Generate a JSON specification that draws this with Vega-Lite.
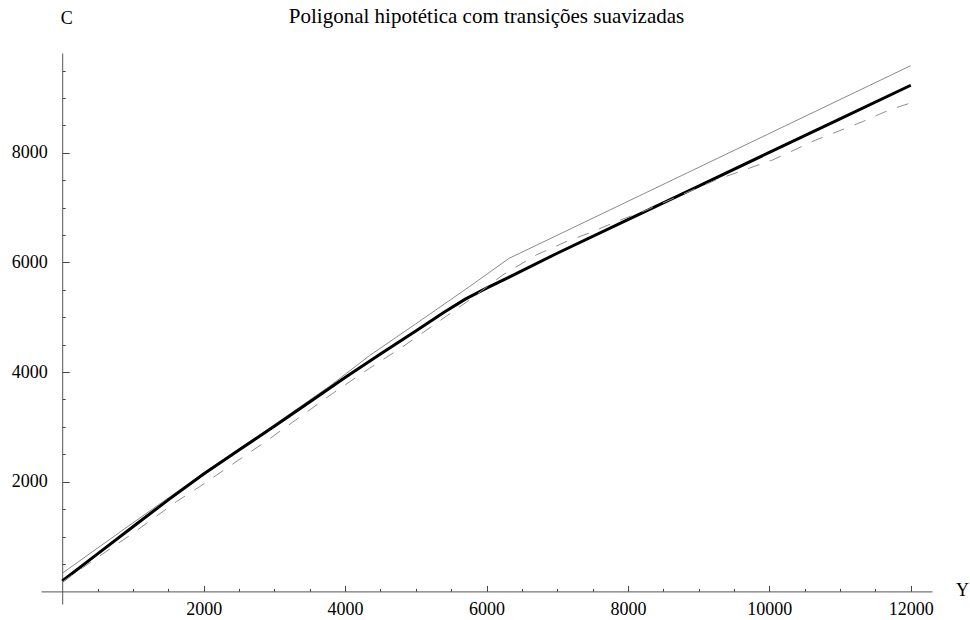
{
  "$schema": "https://vega.github.io/schema/vega-lite/v6.json",
  "width": 891,
  "height": 551,
  "autosize": {"type": "none"},
  "padding": {"left": 41, "top": 53, "right": 38, "bottom": 16},
  "background": "white",
  "config": {"view": {"stroke": null}, "font": "Liberation Serif"},
  "title": {
    "text": "Poligonal hipotética com transições suavizadas",
    "font": "Liberation Serif",
    "fontSize": 21,
    "fontWeight": "normal",
    "color": "black",
    "anchor": "middle",
    "frame": "group",
    "baseline": "alphabetic",
    "offset": 0,
    "dy": 35
  },
  "datasets": {
    "poligonal": [
      {"Y": 0, "C": 330}, {"Y": 1000, "C": 1250}, {"Y": 2000, "C": 2160},
      {"Y": 3000, "C": 3040}, {"Y": 3800, "C": 3760}, {"Y": 4345, "C": 4300},
      {"Y": 5000, "C": 4880}, {"Y": 5760, "C": 5560}, {"Y": 6320, "C": 6075},
      {"Y": 12000, "C": 9590}
    ],
    "suavizada": [
      {"Y": 0, "C": 190}, {"Y": 500, "C": 685}, {"Y": 1000, "C": 1180},
      {"Y": 1500, "C": 1670}, {"Y": 2000, "C": 2140}, {"Y": 2500, "C": 2580},
      {"Y": 3000, "C": 3010}, {"Y": 3500, "C": 3455}, {"Y": 4000, "C": 3900},
      {"Y": 4500, "C": 4330}, {"Y": 5000, "C": 4750}, {"Y": 5400, "C": 5090},
      {"Y": 5700, "C": 5330}, {"Y": 6000, "C": 5530}, {"Y": 6300, "C": 5720},
      {"Y": 7000, "C": 6167}, {"Y": 8000, "C": 6780}, {"Y": 9000, "C": 7393},
      {"Y": 10000, "C": 8006}, {"Y": 11000, "C": 8619}, {"Y": 12000, "C": 9232}
    ],
    "tracejada": [
      {"Y": 0, "C": 170}, {"Y": 500, "C": 620}, {"Y": 1000, "C": 1060},
      {"Y": 1613, "C": 1636}, {"Y": 1943, "C": 1910}, {"Y": 2885, "C": 2740},
      {"Y": 3827, "C": 3613}, {"Y": 4345, "C": 4069}, {"Y": 4816, "C": 4463},
      {"Y": 5288, "C": 4890}, {"Y": 5758, "C": 5314}, {"Y": 6229, "C": 5771},
      {"Y": 6701, "C": 6135}, {"Y": 7125, "C": 6378}, {"Y": 7500, "C": 6560},
      {"Y": 7854, "C": 6755}, {"Y": 8207, "C": 6925}, {"Y": 9244, "C": 7503},
      {"Y": 9573, "C": 7655}, {"Y": 10044, "C": 7868}, {"Y": 10657, "C": 8233},
      {"Y": 11316, "C": 8566}, {"Y": 11693, "C": 8780}, {"Y": 12000, "C": 8910}
    ]
  },
  "encoding": {
    "x": {
      "field": "Y",
      "type": "quantitative",
      "scale": {"domain": [-300, 12300], "nice": false, "zero": false},
      "axis": {
        "orient": "bottom",
        "offset": -12.6,
        "values": [500, 1000, 1500, 2000, 2500, 3000, 3500, 4000, 4500, 5000, 5500, 6000, 6500, 7000, 7500, 8000, 8500, 9000, 9500, 10000, 10500, 11000, 11500, 12000],
        "labelExpr": "datum.value % 2000 === 0 ? format(datum.value, 'd') : ''",
        "labelFont": "Liberation Serif",
        "labelFontSize": 18,
        "labelColor": "black",
        "labelPadding": 15,
        "labelBaseline": "top",
        "labelFlush": false,
        "labelOverlap": false,
        "tickSize": {"condition": {"test": "datum.value % 2000 === 0", "value": -6}, "value": -3},
        "tickColor": "#444",
        "tickWidth": 1,
        "domainColor": "#555",
        "domainWidth": 1,
        "grid": false,
        "title": "Y",
        "titleFont": "Liberation Serif",
        "titleFontSize": 18,
        "titleFontWeight": "normal",
        "titleColor": "black",
        "titleAngle": 0,
        "titleAlign": "center",
        "titleBaseline": "middle",
        "titleX": 921,
        "titleY": -1
      }
    },
    "y": {
      "field": "C",
      "type": "quantitative",
      "scale": {"domain": [-230, 9820], "nice": false, "zero": false},
      "axis": {
        "orient": "left",
        "offset": -21.2,
        "values": [500, 1000, 1500, 2000, 2500, 3000, 3500, 4000, 4500, 5000, 5500, 6000, 6500, 7000, 7500, 8000, 8500, 9000, 9500],
        "labelExpr": "datum.value % 2000 === 0 ? format(datum.value, 'd') : ''",
        "labelFont": "Liberation Serif",
        "labelFontSize": 18,
        "labelColor": "black",
        "labelPadding": 22,
        "labelBaseline": "middle",
        "labelFlush": false,
        "labelOverlap": false,
        "tickSize": {"condition": {"test": "datum.value % 2000 === 0", "value": -7}, "value": -3},
        "tickColor": "#444",
        "tickWidth": 1,
        "domainColor": "#555",
        "domainWidth": 1,
        "grid": false,
        "title": "C",
        "titleFont": "Liberation Serif",
        "titleFontSize": 18,
        "titleFontWeight": "normal",
        "titleColor": "black",
        "titleAngle": 0,
        "titleAlign": "center",
        "titleBaseline": "middle",
        "titleX": 4,
        "titleY": -35
      }
    }
  },
  "layer": [
    {
      "data": {"name": "poligonal"},
      "mark": {"type": "line", "color": "#8a8a8a", "strokeWidth": 1, "clip": false}
    },
    {
      "data": {"name": "suavizada"},
      "mark": {"type": "line", "color": "black", "strokeWidth": 3, "clip": false}
    },
    {
      "data": {"name": "tracejada"},
      "mark": {"type": "line", "color": "#8f8f8f", "strokeWidth": 1, "strokeDash": [12, 11], "clip": false}
    }
  ]
}
